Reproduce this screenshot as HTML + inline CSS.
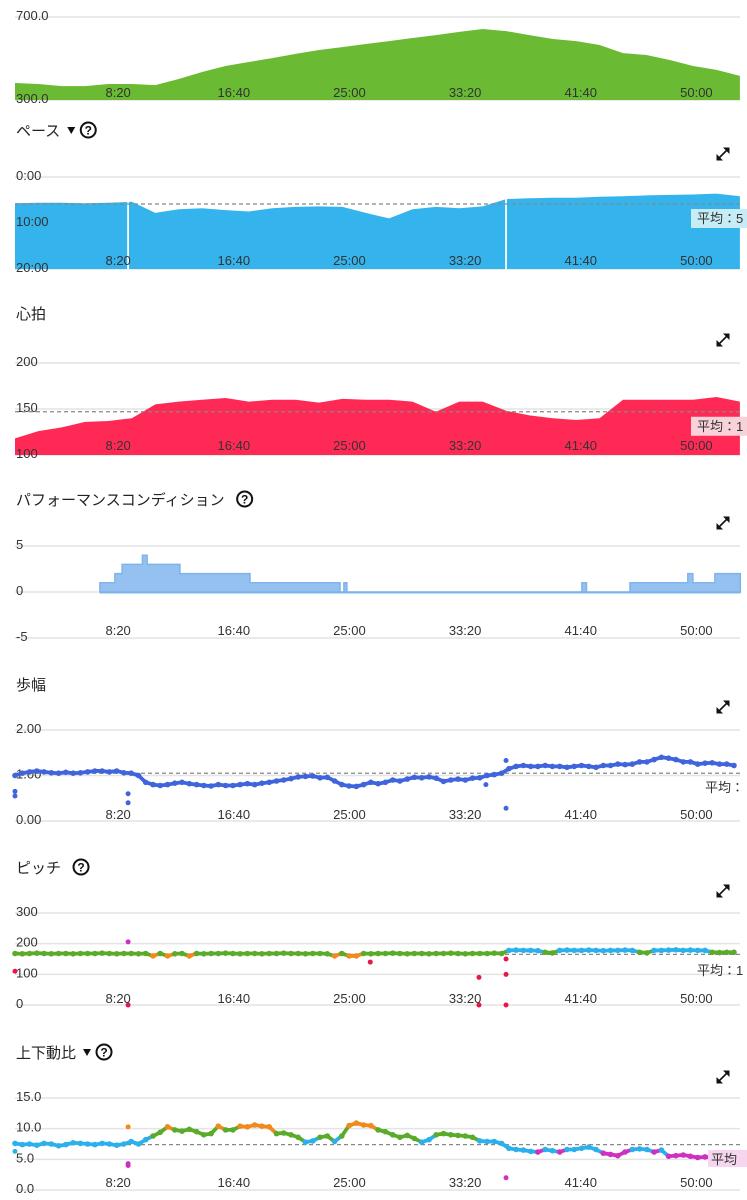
<!DOCTYPE html>
<html><head><meta charset="utf-8">
<style>
html,body{margin:0;padding:0;background:#fff;}
svg{display:block;font-family:"Liberation Sans","Noto Sans CJK JP",sans-serif;}
</style></head>
<body>
<svg id="c" width="747" height="1200" viewBox="0 0 747 1200" xmlns="http://www.w3.org/2000/svg"></svg>
<script>
// ---- data ----
const timeTicks = [500, 1000, 1500, 2000, 2500, 3000];
const timeTickLabels = ["8:20", "16:40", "25:00", "33:20", "41:40", "50:00"];
const areaT0 = 54, areaStep = 101.1;
const elevation = [382,377,367,367,377,377,372,401,435,464,483,502,522,541,555,570,584,599,613,628,642,632,613,594,584,565,526,517,493,464,445,416];
const elevTicks = [300, 700];
const elevTickLabels = ["300.0", "700.0"];
const pace = [5.7,5.6,5.6,5.7,5.6,5.4,7.8,7.0,6.8,7.2,7.5,6.8,6.5,6.4,6.5,7.8,9.0,7.0,6.5,6.8,6.4,4.8,4.6,4.5,4.5,4.3,4.2,4.0,3.9,3.8,3.6,4.2];
const pacePauses = [543, 2177];
const paceAvg = 5.87;
const paceTicks = [0, 10, 20];
const paceTickLabels = ["0:00", "10:00", "20:00"];
const heart = [118,126,130,136,137,140,155,158,160,162,158,160,160,157,161,160,160,158,147,158,158,148,143,140,138,140,160,160,160,160,163,158];
const heartAvg = 147;
const heartTicks = [100, 150, 200];
const perfTimes = [421,486,517,605,625,767,1070,1459,1476,1489,2505,2525,2713,2963,2985,3080,3190];
const perfValues = [1,2,3,4,3,2,1,0,1,0,1,0,1,2,1,2,2];
const perfTicks = [-5, 0, 5];
const dotT0 = 54, dotStep = 31.4;
const stride = [1.0,1.05,1.08,1.1,1.08,1.06,1.05,1.07,1.05,1.06,1.08,1.1,1.1,1.08,1.1,1.06,1.05,1.0,0.85,0.8,0.78,0.8,0.83,0.85,0.82,0.8,0.78,0.77,0.8,0.78,0.78,0.8,0.82,0.8,0.83,0.85,0.88,0.9,0.93,0.97,0.98,0.99,0.95,0.96,0.88,0.8,0.77,0.76,0.8,0.85,0.82,0.85,0.9,0.88,0.92,0.96,0.95,0.97,0.94,0.87,0.9,0.92,0.9,0.94,0.95,1.0,1.02,1.05,1.15,1.2,1.22,1.2,1.2,1.22,1.2,1.2,1.18,1.2,1.22,1.2,1.18,1.22,1.22,1.25,1.24,1.25,1.3,1.3,1.35,1.4,1.38,1.35,1.3,1.3,1.25,1.27,1.28,1.25,1.25,1.22];
const strideOutT = [54,54,543,543,2177,2177,2090];
const strideOutV = [0.65,0.55,0.6,0.4,1.33,0.28,0.8];
const strideAvg = 1.05;
const strideTicks = [0, 1, 2];
const strideTickLabels = ["0.00", "1.00", "2.00"];
const pitch = [168,167,168,169,168,167,168,168,167,168,168,168,169,168,167,168,168,167,168,160,168,160,167,168,160,168,167,168,168,169,168,167,168,168,167,168,168,169,168,168,167,168,168,167,160,168,160,160,168,167,168,168,169,168,167,168,168,167,168,168,169,168,167,168,168,168,169,168,178,179,178,178,177,172,170,178,179,178,178,179,178,177,178,178,179,178,172,170,178,178,179,180,178,179,178,178,172,171,172,172];
const pitchOutT = [54,543,543,1590,2060,2060,2177,2177,2177];
const pitchOutV = [110,206,0,140,90,0,150,100,0];
const pitchAvg = 165;
const pitchTicks = [0, 100, 200, 300];
const vratio = [7.6,7.4,7.5,7.3,7.6,7.5,7.2,7.4,7.7,7.6,7.5,7.4,7.6,7.5,7.3,7.5,7.9,7.5,8.2,8.8,9.4,10.3,9.8,9.6,9.9,9.5,9.0,9.2,10.4,9.8,9.8,10.4,10.3,10.6,10.4,10.3,9.2,9.3,9.0,8.6,7.8,8.0,8.6,8.8,7.9,8.8,10.5,10.9,10.6,10.5,9.8,9.5,9.0,8.6,8.9,8.4,7.8,8.2,9.0,9.2,9.0,8.9,8.8,8.6,8.0,7.9,7.9,7.6,6.8,6.6,6.5,6.3,6.2,6.6,6.4,6.2,6.6,6.6,6.8,7.0,6.6,6.0,5.8,5.6,6.2,6.6,6.7,6.6,6.2,6.5,5.5,5.6,5.7,5.5,5.3,5.4,5.3,5.7,5.9,6.0];
const vrOutT = [54,543,543,543,2177];
const vrOutV = [6.3,10.3,4.3,4.0,2.0];
const vrAvg = 7.4;
const vrTicks = [0, 5, 10, 15];
const vrTickLabels = ["0.0", "5.0", "10.0", "15.0"];

// ---- helpers ----
const NS = "http://www.w3.org/2000/svg";
const svg = document.getElementById("c");
const X0 = 15, X1 = 740;
function xs(t){ return 2.5 + t * 0.2313; }
function mk(tag, attrs, parent){
  const e = document.createElementNS(NS, tag);
  for (const k in attrs) e.setAttribute(k, attrs[k]);
  (parent || svg).appendChild(e);
  return e;
}
function yScale(vmin, vmax, yb, yt){ return v => yb - (v - vmin) / (vmax - vmin) * (yb - yt); }
function txt(s, x, y, size, anchor, fill, parent){
  const t = mk("text", {x:x, y:y, "font-size":size, "text-anchor":anchor||"start", fill:fill||"#333"}, parent);
  t.textContent = s; return t;
}
function gridLines(g, ticks, ys){
  ticks.forEach(v=>{
    const y = ys(v);
    const l = mk("line", {x1:X0, x2:X1, y1:y, y2:y, stroke:"#e4e4e4", "stroke-width":1.5}, g);
    
    
  });
}
function tickLabels(g, ticks, labels, ys){
  ticks.forEach((v,i)=>{
    const t = txt(labels[i], 16, ys(v) + 3, 13, "start", "#333", g);
    
    
  });
}
function xLabels(g, y){
  timeTicks.forEach((t,i)=>{
    const e = txt(timeTickLabels[i], xs(t), y, 13, "middle", "#333", g);
    
    
  });
}
function title(g, s, y, arrow, help){
  const t = txt(s, 16, y + 6, 15, "start", "#222", g);
  
  
  let x = 16 + t.getComputedTextLength() + 6;
  if (arrow){
    const a = mk("path", {d:`M${x+1} ${y-3} L${x+9} ${y-3} L${x+5} ${y+4} Z`, fill:"#111"}, g);
    
    
    x += 14;
  } else x += 6;
  if (help){
    const hg = mk("g", {}, g);
    
    
    mk("circle", {cx:x+8, cy:y, r:7.5, fill:"#fff", stroke:"#111", "stroke-width":2}, hg);
    txt("?", x+8, y+4.5, 12, "middle", "#111", hg).setAttribute("font-weight","bold");
  }
}
function expand(g, y){
  const e = mk("g", {transform:`translate(723,${y})`}, g);
  
  
  mk("line", {x1:-4, y1:4, x2:4, y2:-4, stroke:"#111", "stroke-width":1.6}, e);
  mk("path", {d:"M0 -6.5 L6.5 -6.5 L6.5 0 Z", fill:"#111"}, e);
  mk("path", {d:"M-6.5 0 L-6.5 6.5 L0 6.5 Z", fill:"#111"}, e);
}
function area(g, vals, ys, yb, fill){
  let d = `M${xs(areaT0)} ${yb}`;
  vals.forEach((v,i)=>{ d += ` L${xs(areaT0 + i*areaStep).toFixed(1)} ${ys(v).toFixed(1)}`; });
  d += ` L${xs(areaT0 + (vals.length-1)*areaStep).toFixed(1)} ${yb} Z`;
  const p = mk("path", {d:d, fill:fill}, g);
  
  
}
function avgLine(g, y, label, bg){
  const l = mk("line", {x1:X0, x2:X1, y1:y, y2:y, stroke:"#888", "stroke-width":1.2, "stroke-dasharray":"4,3"}, g);
  
  
  if (label){
    if (bg){ mk("rect", {x:691, y:y+5, width:56, height:19, fill:bg}, g); }
    const t = txt(label, 697, y+19, 13, "start", "#333", g);
    
    
  }
}
function dots(g, vals, ys, colorFn, t0, step){
  vals.forEach((v,i)=>{
    if (i < vals.length-1){
      const seg = mk("line", {x1:xs(t0+i*step), y1:ys(v), x2:xs(t0+(i+1)*step), y2:ys(vals[i+1]), stroke:colorFn(v), "stroke-width":3.8, "stroke-linecap":"round"}, g);
      
      
    }
    const c = mk("circle", {cx:xs(t0 + i*step).toFixed(1), cy:ys(v).toFixed(1), r:2.8, fill:colorFn(v)}, g);
    
    
  });
}
function outliers(g, ts, vs, ys, colorFn){
  ts.forEach((t,i)=>{
    const c = mk("circle", {cx:xs(t), cy:ys(vs[i]), r:2.5, fill:colorFn(vs[i])}, g);
    
    
  });
}
function panel(name){ const g = mk("g", {});   return g; }

// ---- elevation ----
{
  const g = panel("elevation-chart");
  const ys = yScale(300, 700, 100, 17);
  gridLines(g, elevTicks, ys);
  area(g, elevation, ys, 100, "#6aba33");
  tickLabels(g, elevTicks, elevTickLabels, ys);
  xLabels(g, 97);
}
// ---- pace (inverted axis: 0:00 at top) ----
{
  const g = panel("pace-chart");
  title(g, "ペース", 130, true, true);
  expand(g, 154);
  const ys = yScale(20, 0, 269, 177);
  gridLines(g, paceTicks, ys);
  area(g, pace, ys, 269, "#35b3ec");
  pacePauses.forEach(t=>{ const l = mk("line", {x1:xs(t), x2:xs(t), y1:190, y2:269, stroke:"#fff", "stroke-width":1.8}, g);   });
  tickLabels(g, paceTicks, paceTickLabels, ys);
  avgLine(g, ys(paceAvg), "平均：5", "#c7ecf5");
  xLabels(g, 265);
}
// ---- heart ----
{
  const g = panel("heart-rate-chart");
  title(g, "心拍", 313, false, false);
  expand(g, 340);
  const ys = yScale(100, 200, 455, 363);
  gridLines(g, heartTicks, ys);
  area(g, heart, ys, 455, "#fe2a55");
  tickLabels(g, heartTicks, heartTicks.map(String), ys);
  avgLine(g, ys(heartAvg), "平均：1", "#f9d2d9");
  xLabels(g, 450);
}
// ---- performance condition ----
{
  const g = panel("performance-condition-chart");
  title(g, "パフォーマンスコンディション", 499, false, true);
  expand(g, 523);
  const ys = yScale(-5, 5, 638, 546);
  gridLines(g, perfTicks, ys);
  let d = `M${xs(perfTimes[0])} ${ys(0)}`;
  perfTimes.forEach((t,i)=>{
    if (i>0) d += ` L${xs(t).toFixed(1)} ${ys(perfValues[i-1]).toFixed(1)}`;
    d += ` L${xs(t).toFixed(1)} ${ys(perfValues[i]).toFixed(1)}`;
  });
  const last = perfTimes.length-1;
  const p = mk("path", {d: d + ` L${xs(perfTimes[last])} ${ys(0)} Z`, fill:"#94c1f0", stroke:"#7fb3ec", "stroke-width":1.5}, g);
  
  
  const zl = mk("line", {x1:xs(perfTimes[0]), x2:xs(perfTimes[last]), y1:ys(0)+0.5, y2:ys(0)+0.5, stroke:"#7fb3ec", "stroke-width":2}, g);
  
  
  tickLabels(g, perfTicks, perfTicks.map(String), ys);
  xLabels(g, 635);
}
// ---- stride ----
{
  const g = panel("stride-length-chart");
  title(g, "歩幅", 684, false, false);
  expand(g, 707);
  const ys = yScale(0, 2, 821, 730);
  gridLines(g, strideTicks, ys);
  tickLabels(g, strideTicks, strideTickLabels, ys);
  avgLine(g, ys(strideAvg), null, null);
  const blue = ()=>"#3f64dc";
  dots(g, stride, ys, blue, dotT0, dotStep);
  outliers(g, strideOutT, strideOutV, ys, blue);
  const t = txt("平均：", 705, 792, 13, "start", "#333", g);  
  xLabels(g, 819);
}
// ---- pitch ----
{
  const g = panel("cadence-chart");
  title(g, "ピッチ", 867, false, true);
  expand(g, 891);
  const ys = yScale(0, 300, 1005, 913);
  gridLines(g, pitchTicks, ys);
  tickLabels(g, pitchTicks, pitchTicks.map(String), ys);
  avgLine(g, ys(pitchAvg), null, null);
  const col = v => v < 153 ? "#e8174a" : v < 164 ? "#f08a1c" : v < 174 ? "#5aab2a" : v < 184 ? "#2bb0ec" : "#d030c0";
  dots(g, pitch, ys, col, dotT0, dotStep);
  outliers(g, pitchOutT, pitchOutV, ys, col);
  const t = txt("平均：1", 697, 975, 13, "start", "#333", g);  
  xLabels(g, 1003);
}
// ---- vertical ratio ----
{
  const g = panel("vertical-ratio-chart");
  title(g, "上下動比", 1052, true, true);
  expand(g, 1077);
  const ys = yScale(0, 15, 1190, 1098);
  gridLines(g, vrTicks, ys);
  tickLabels(g, vrTicks, vrTickLabels, ys);
  avgLine(g, ys(vrAvg), null, null);
  const col = v => v < 6.3 ? "#d030c0" : v < 8.3 ? "#2bb0ec" : v < 10.2 ? "#5aab2a" : "#f08a1c";
  dots(g, vratio, ys, col, dotT0, dotStep);
  outliers(g, vrOutT, vrOutV, ys, col);
  mk("rect", {x:708, y:1150, width:39, height:17, fill:"#f6d6ee"}, g);
  const t = txt("平均", 711, 1164, 13, "start", "#333", g);  
  xLabels(g, 1187);
}
</script>
</body></html>
